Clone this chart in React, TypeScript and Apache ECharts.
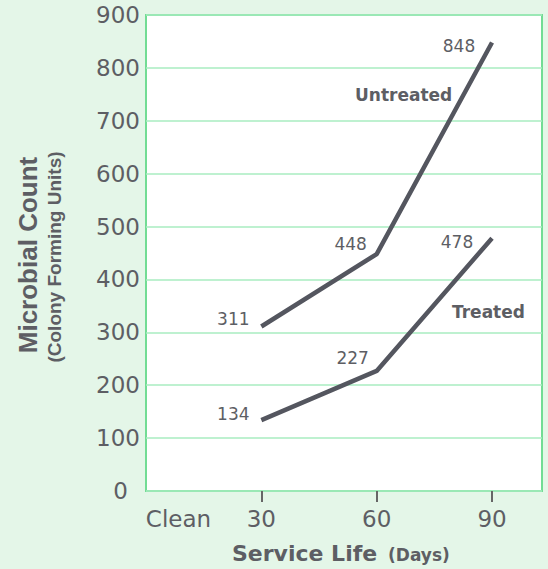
import React, { useEffect, useRef } from "react";
import * as echarts from "echarts";

const xTicks = [30, 60, 90];
const xLabelValues = [0, 30, 60, 90];
const xLabelText: Record<number, string> = { 0: "Clean", 30: "30", 60: "60", 90: "90" };
const days = [30, 60, 90];
const untreated = [311, 448, 848];
const treated = [134, 227, 478];
const yMin = 0;
const yMax = 900;
const yStep = 100;

const WIDE = "'DejaVu Sans', Verdana, sans-serif";
const NARROW = "'Liberation Sans', Arial, Helvetica, sans-serif";
const TEXT = "#5d5e64";
const LINE = "#54565f";

export default function App() {
  const ref = useRef<HTMLDivElement>(null);
  useEffect(() => {
    if (!ref.current) return;
    const chart = echarts.init(ref.current, null, { renderer: "svg" });
    const untreatedOffsets = [[-28, -8], [-26, -10], [-33, 3]];
    const treatedOffsets = [[-28, -6], [-24, -13], [-35, 4]];
    const mk = (vals: number[], offs: number[][]) =>
      vals.map((v, i) => ({
        value: [days[i], v],
        label: {
          show: true,
          position: "inside",
          offset: offs[i],
          formatter: String(v),
          color: TEXT,
          fontSize: 17,
          fontFamily: WIDE,
        },
      }));
    chart.setOption({
      animation: false,
      backgroundColor: "#e4f6e8",
      grid: {
        left: 146,
        right: 6,
        top: 15,
        bottom: 78,
        show: true,
        backgroundColor: "#ffffff",
        borderColor: "#72dc94",
        borderWidth: 2,
      },
      xAxis: {
        type: "value",
        min: 0,
        max: 103,
        axisLine: { show: false },
        splitLine: { show: false },
        axisTick: {
          show: true,
          customValues: xTicks,
          length: 11,
          lineStyle: { color: "#666", width: 2 },
        },
        axisLabel: {
          customValues: xLabelValues,
          margin: 16,
          formatter: (v: number) => (v === 0 ? "{c|" + xLabelText[0] + "}" : xLabelText[v] ?? ""),
          color: TEXT,
          fontSize: 23,
          fontFamily: WIDE,
          rich: {
            c: { color: TEXT, fontSize: 23, fontFamily: WIDE, padding: [0, 0, 0, 65] },
          },
        },
      },
      yAxis: {
        type: "value",
        min: yMin,
        max: yMax,
        interval: yStep,
        axisLine: { show: false },
        axisTick: { show: false },
        splitLine: { lineStyle: { color: "#a9ecc0", width: 1.5 } },
        axisLabel: {
          color: TEXT,
          fontSize: 23,
          fontFamily: WIDE,
          margin: 6,
          formatter: (v: number) => (v === 0 ? "{z|0}" : String(v)),
          rich: {
            z: { color: TEXT, fontSize: 23, fontFamily: WIDE, padding: [0, 12, 0, 0] },
          },
        },
      },
      series: [
        {
          name: "Untreated",
          type: "line",
          data: mk(untreated, untreatedOffsets),
          symbol: "circle",
          symbolSize: 1,
          showSymbol: true,
          itemStyle: { color: "rgba(0,0,0,0)" },
          lineStyle: { color: LINE, width: 4.5 },
        },
        {
          name: "Treated",
          type: "line",
          data: mk(treated, treatedOffsets),
          symbol: "circle",
          symbolSize: 1,
          showSymbol: true,
          itemStyle: { color: "rgba(0,0,0,0)" },
          lineStyle: { color: LINE, width: 4.5 },
        },
      ],
      graphic: [
        {
          type: "text",
          x: 28,
          y: 255,
          rotation: Math.PI / 2,
          style: {
            text: "Microbial Count",
            fill: TEXT,
            font: "bold 26px " + NARROW,
            align: "center",
            verticalAlign: "middle",
          },
        },
        {
          type: "text",
          x: 54,
          y: 257,
          rotation: Math.PI / 2,
          style: {
            text: "(Colony Forming Units)",
            fill: TEXT,
            font: "bold 19px " + NARROW,
            align: "center",
            verticalAlign: "middle",
          },
        },
        {
          type: "text",
          x: 232,
          y: 553,
          style: {
            text: "Service Life",
            fill: TEXT,
            font: "bold 22px " + WIDE,
            align: "left",
            verticalAlign: "middle",
          },
        },
        {
          type: "text",
          x: 388,
          y: 555,
          style: {
            text: "(Days)",
            fill: TEXT,
            font: "bold 17px " + WIDE,
            align: "left",
            verticalAlign: "middle",
          },
        },
        {
          type: "text",
          x: 355,
          y: 95,
          style: {
            text: "Untreated",
            fill: TEXT,
            font: "bold 17px " + WIDE,
            align: "left",
            verticalAlign: "middle",
          },
        },
        {
          type: "text",
          x: 452,
          y: 312,
          style: {
            text: "Treated",
            fill: TEXT,
            font: "bold 17px " + WIDE,
            align: "left",
            verticalAlign: "middle",
          },
        },
      ],
    });
    return () => chart.dispose();
  }, []);
  return (
    <div
      ref={ref}
      style={{ position: "fixed", left: 0, top: 0, width: 548, height: 569 }}
    />
  );
}
